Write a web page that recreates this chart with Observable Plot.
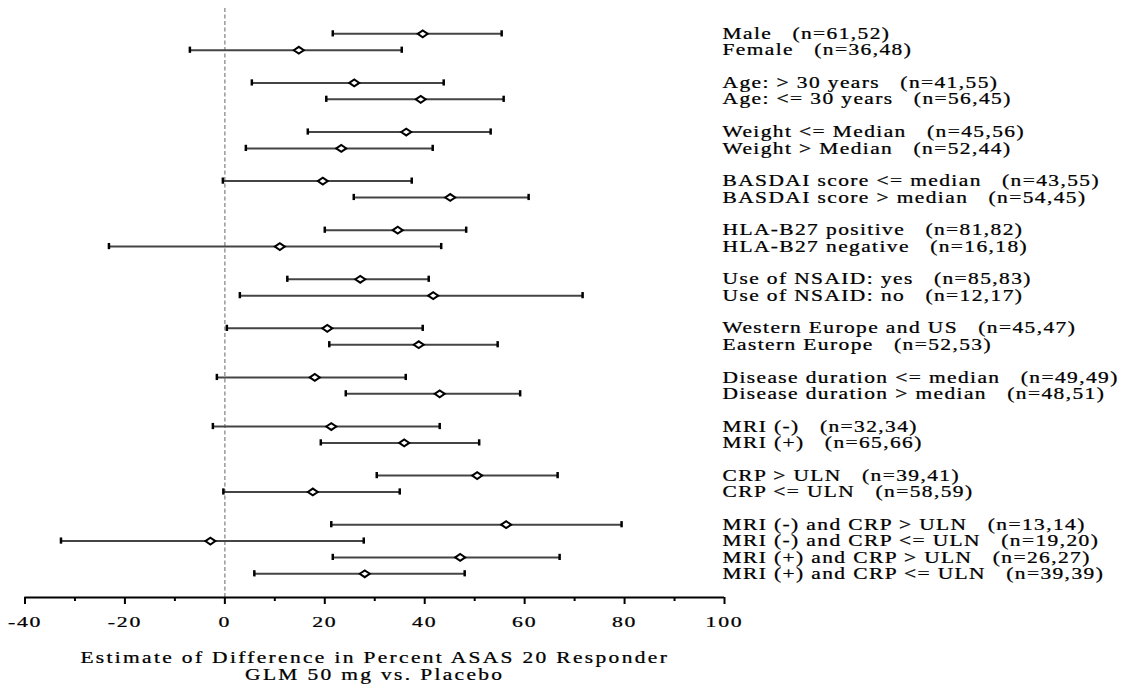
<!DOCTYPE html>
<html><head><meta charset="utf-8">
<script src="https://cdn.jsdelivr.net/npm/d3@7"></script>
<script src="https://cdn.jsdelivr.net/npm/@observablehq/plot@0.6"></script>
<style>
html,body{margin:0;padding:0;background:#fff;}
svg text{font-family:"Liberation Serif","Times New Roman",serif;}
</style></head><body><div id="chart"></div>
<script>
// ---- data ----
const subgroups = [
  "Male", "Female",
  "Age: > 30 years", "Age: <= 30 years",
  "Weight <= Median", "Weight > Median",
  "BASDAI score <= median", "BASDAI score > median",
  "HLA-B27 positive", "HLA-B27 negative",
  "Use of NSAID: yes", "Use of NSAID: no",
  "Western Europe and US", "Eastern Europe",
  "Disease duration <= median", "Disease duration > median",
  "MRI (-)", "MRI (+)",
  "CRP > ULN", "CRP <= ULN",
  "MRI (-) and CRP > ULN", "MRI (-) and CRP <= ULN", "MRI (+) and CRP > ULN", "MRI (+) and CRP <= ULN"
];
const counts = [
  "(n=61,52)", "(n=36,48)",
  "(n=41,55)", "(n=56,45)",
  "(n=45,56)", "(n=52,44)",
  "(n=43,55)", "(n=54,45)",
  "(n=81,82)", "(n=16,18)",
  "(n=85,83)", "(n=12,17)",
  "(n=45,47)", "(n=52,53)",
  "(n=49,49)", "(n=48,51)",
  "(n=32,34)", "(n=65,66)",
  "(n=39,41)", "(n=58,59)",
  "(n=13,14)", "(n=19,20)", "(n=26,27)", "(n=39,39)"
];
const groupIds = [1,1, 2,2, 3,3, 4,4, 5,5, 6,6, 7,7, 8,8, 9,9, 10,10, 11,11,11,11];
const estimates = [39.6, 14.8, 25.9, 39.2, 36.3, 23.3, 19.6, 45.1, 34.6, 11.0, 27.1, 41.7,
                   20.5, 38.8, 18.0, 43.0, 21.3, 35.9, 50.5, 17.6, 56.3, -2.9, 47.1, 28.0];
const lowerCI   = [21.6, -7.0, 5.4, 20.3, 16.6, 4.2, -0.4, 25.8, 20.0, -23.2, 12.5, 3.0,
                   0.4, 20.9, -1.6, 24.2, -2.4, 19.2, 30.4, -0.3, 21.3, -32.8, 21.6, 5.9];
const upperCI   = [55.4, 35.4, 43.8, 55.8, 53.2, 41.6, 37.4, 60.8, 48.3, 43.3, 40.8, 71.6,
                   39.6, 54.6, 36.2, 59.1, 43.0, 50.9, 66.6, 35.0, 79.4, 27.8, 67.0, 48.0];
const xTicksMajor = [-40, -20, 0, 20, 40, 60, 80, 100];
const xTicksMinor = [-30, -10, 10, 30, 50, 70, 90];
const axisTitle = "Estimate of Difference in Percent ASAS 20 Responder\nGLM 50 mg vs. Placebo";

// ---- table ----
let slot = -1, prev = null;
const rows = subgroups.map((s, i) => {
  if (prev !== null && groupIds[i] !== prev) slot += 1;
  slot += 1; prev = groupIds[i];
  return {slot, label: s + "\u00a0\u00a0\u00a0" + counts[i], est: estimates[i], lo: lowerCI[i], hi: upperCI[i]};
});
const yDomain = [-1.55, slot + 1.45];
const serif = "'Liberation Serif', 'Times New Roman', serif";

const wideDiamond = {
  draw(ctx, size) {
    const r = Math.sqrt(size / Math.PI);
    const w = r * 1.25, h = r * 0.85;
    ctx.moveTo(-w, 0); ctx.lineTo(0, -h); ctx.lineTo(w, 0); ctx.lineTo(0, h); ctx.closePath();
  }
};

const svg = Plot.plot({
  width: 1122,
  height: 684,
  marginLeft: 24.5,
  marginRight: 398,
  marginTop: 8,
  marginBottom: 87,
  style: {fontFamily: serif, fontSize: "15px", color: "black", background: "white"},
  x: {domain: [-40, 100], axis: null},
  y: {domain: yDomain, reverse: true, axis: null},
  marks: [
    Plot.ruleX([0], {stroke: "#999", strokeWidth: 1.5, strokeDasharray: "4,2.5"}),
    Plot.link(rows, {x1: "lo", x2: "hi", y1: "slot", y2: "slot", stroke: "#444", strokeWidth: 2}),
    Plot.ruleX(rows, {x: "lo", y1: d => d.slot - 0.19, y2: d => d.slot + 0.19, stroke: "black", strokeWidth: 2.5}),
    Plot.ruleX(rows, {x: "hi", y1: d => d.slot - 0.19, y2: d => d.slot + 0.19, stroke: "black", strokeWidth: 2.5}),
    Plot.dot(rows, {x: "est", y: "slot", symbol: wideDiamond, r: 4, fill: "white", stroke: "black", strokeWidth: 2}),
    Plot.ruleY([yDomain[1]], {stroke: "black", strokeWidth: 2}),
    Plot.axisX({ticks: xTicksMinor, tickSize: 4, strokeWidth: 2, text: null}),
    Plot.axisX({ticks: xTicksMajor, tickSize: 7, strokeWidth: 2, tickPadding: 12, tickFormat: d => String(d), fontSize: 15, fontFamily: serif}),
    Plot.text(rows, {frameAnchor: "right", y: "slot", text: "label", textAnchor: "start", dx: -2, fontSize: 16, fontFamily: serif, fill: "black"}),
    Plot.text([axisTitle], {frameAnchor: "bottom", text: d => d, dy: 68.5, lineAnchor: "middle", lineHeight: 1.08, fontSize: 16, fontFamily: serif, fill: "black"})
  ]
});

// widen glyphs horizontally like the reference rendering
d3.select(svg).selectAll("text").each(function() {
  const fs = +this.getAttribute("font-size") || +(this.parentNode.getAttribute("font-size")) || 15;
  const big = fs >= 16;
  const isTitle = !!this.querySelector("tspan");
  const sx = big ? 1.34 : 1.45;
  const t = this.getAttribute("transform");
  if (t) this.setAttribute("transform", t + ` scale(${sx},1)`);
  else {
    const x = +this.getAttribute("x") || 0, y = +this.getAttribute("y") || 0;
    this.removeAttribute("x"); this.removeAttribute("y");
    this.setAttribute("transform", `translate(${x},${y}) scale(${sx},1)`);
  }
  this.style.letterSpacing = isTitle ? "1.75px" : big ? "1.05px" : "1.2px";
  this.style.stroke = "black";
  this.style.strokeWidth = "0.25px";
});
document.getElementById("chart").appendChild(svg);
</script>
</body></html>
